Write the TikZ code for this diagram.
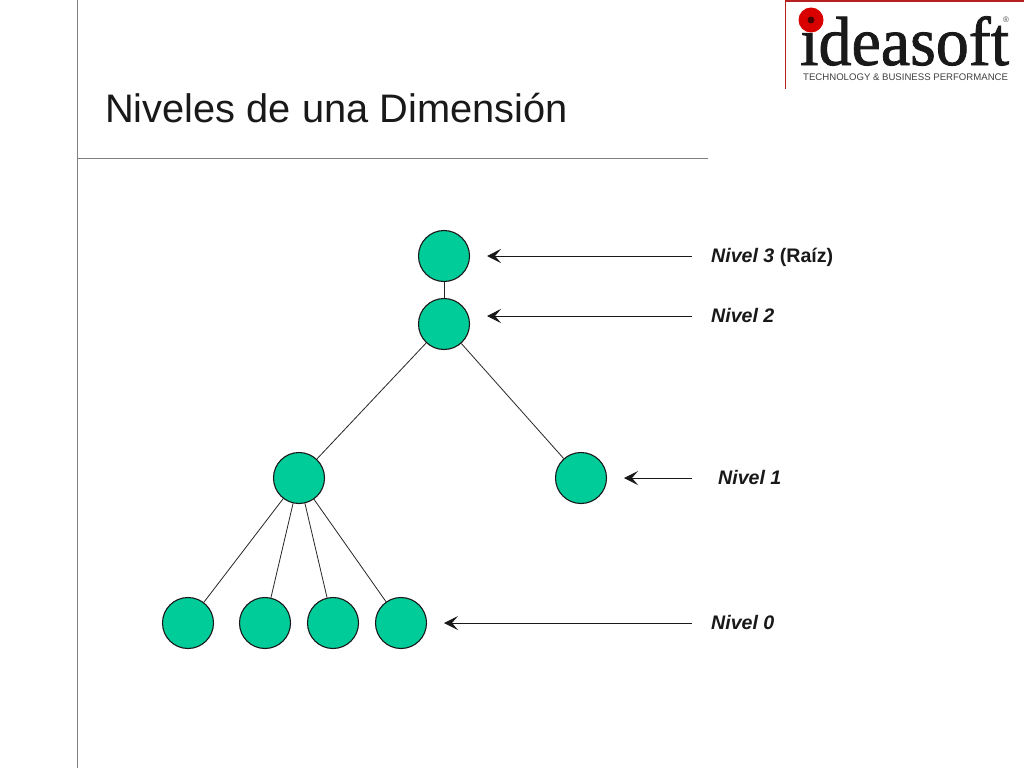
\documentclass[tikz,border=0pt]{standalone}
\usepackage{fontspec}
\setmainfont{Liberation Sans}
\newfontfamily\logofont[FakeBold=1.2]{Liberation Serif}
\usetikzlibrary{arrows.meta}
\definecolor{nodegreen}{HTML}{00CC99}
\definecolor{rulegrey}{HTML}{808080}
\definecolor{logored}{HTML}{B82020}
\tikzset{
  x=1pt,y=-1pt,
  treenode/.style={circle,draw=black!90,line width=1.1pt,fill=nodegreen,minimum size=51pt,inner sep=0pt},
  treeline/.style={draw=black!85,line width=0.8pt},
  pointer/.style={draw=black!90,line width=1pt,-{Stealth[length=14pt,width=14pt,inset=6pt]}},
  lab/.style={anchor=base west,inner sep=0pt,font=\fontsize{19.6}{22}\selectfont\bfseries,text=black!90},
  rulegreyline/.style={draw=rulegrey,line width=0.9pt},
}
\begin{document}
\begin{tikzpicture}
\useasboundingbox (0,0) rectangle (1024,768);
\fill[white] (0,0) rectangle (1024,768);
% slide rules
\coordinate (vt) at (77,0); \coordinate (vb) at (77,768);
\coordinate (hl) at (77,158); \coordinate (hr) at (708,158);
\draw[rulegreyline] (vt) -- (vb);
\draw[rulegreyline] (hl) -- (hr);
\node[anchor=base west,inner sep=0pt,font=\fontsize{39.8}{42}\selectfont,text=black!90] (title) at (105,122) {Niveles de una Dimensión};
% logo
\coordinate (la) at (785.5,89); \coordinate (lb) at (785.5,1); \coordinate (lc) at (1024,1);
\draw[logored,line width=1.5pt] (la) -- (lb) -- (lc);
\node[anchor=base west,inner sep=0pt,font=\logofont\fontsize{66}{66}\selectfont,yscale=1.05,text=black!90] (logo) at (800,65) {ıdeasoft};
\node[circle,fill=red!85!black,minimum size=25pt,inner sep=0pt] (logodot) at (811,20) {};
\node[circle,fill=black!70!red,minimum size=7pt,inner sep=0pt] (logodotc) at (811,20) {};
\node[anchor=base west,inner sep=0pt,font=\fontsize{9.6}{10}\selectfont,text=black!75] (logosub) at (803,81) {TECHNOLOGY \& BUSINESS PERFORMANCE};
\node[inner sep=0pt,font=\fontsize{8}{8}\selectfont,text=black!70] (logoreg) at (1006,20) {®};
% tree nodes
\node[treenode] (r) at (444,256) {};
\node[treenode] (n2) at (444,324) {};
\node[treenode] (a) at (299,478) {};
\node[treenode] (b) at (581,478) {};
\node[treenode] (c1) at (188,623) {};
\node[treenode] (c2) at (265,623) {};
\node[treenode] (c3) at (333,623) {};
\node[treenode] (c4) at (401,623) {};
\draw[treeline] (r) -- (n2);
\draw[treeline] (n2) -- (a);
\draw[treeline] (n2) -- (b);
\draw[treeline] (a) -- (c1);
\draw[treeline] (a) -- (c2);
\draw[treeline] (a) -- (c3);
\draw[treeline] (a) -- (c4);
% labels
\node[lab] (l3) at (711,262) {\itshape Nivel 3 \upshape(Raíz)};
\node[lab] (l2) at (711,322) {\itshape Nivel 2};
\node[lab] (l1) at (718,484) {\itshape Nivel 1};
\node[lab] (l0) at (711,629) {\itshape Nivel 0};
% pointers
\coordinate (s3) at (692,256); \coordinate (e3) at (487,256);
\coordinate (s2) at (692,316); \coordinate (e2) at (487,316);
\coordinate (s1) at (692,478); \coordinate (e1) at (624,478);
\coordinate (s0) at (692,623); \coordinate (e0) at (444,623);
\draw[pointer] (s3) -- (e3);
\draw[pointer] (s2) -- (e2);
\draw[pointer] (s1) -- (e1);
\draw[pointer] (s0) -- (e0);
\end{tikzpicture}
\end{document}
